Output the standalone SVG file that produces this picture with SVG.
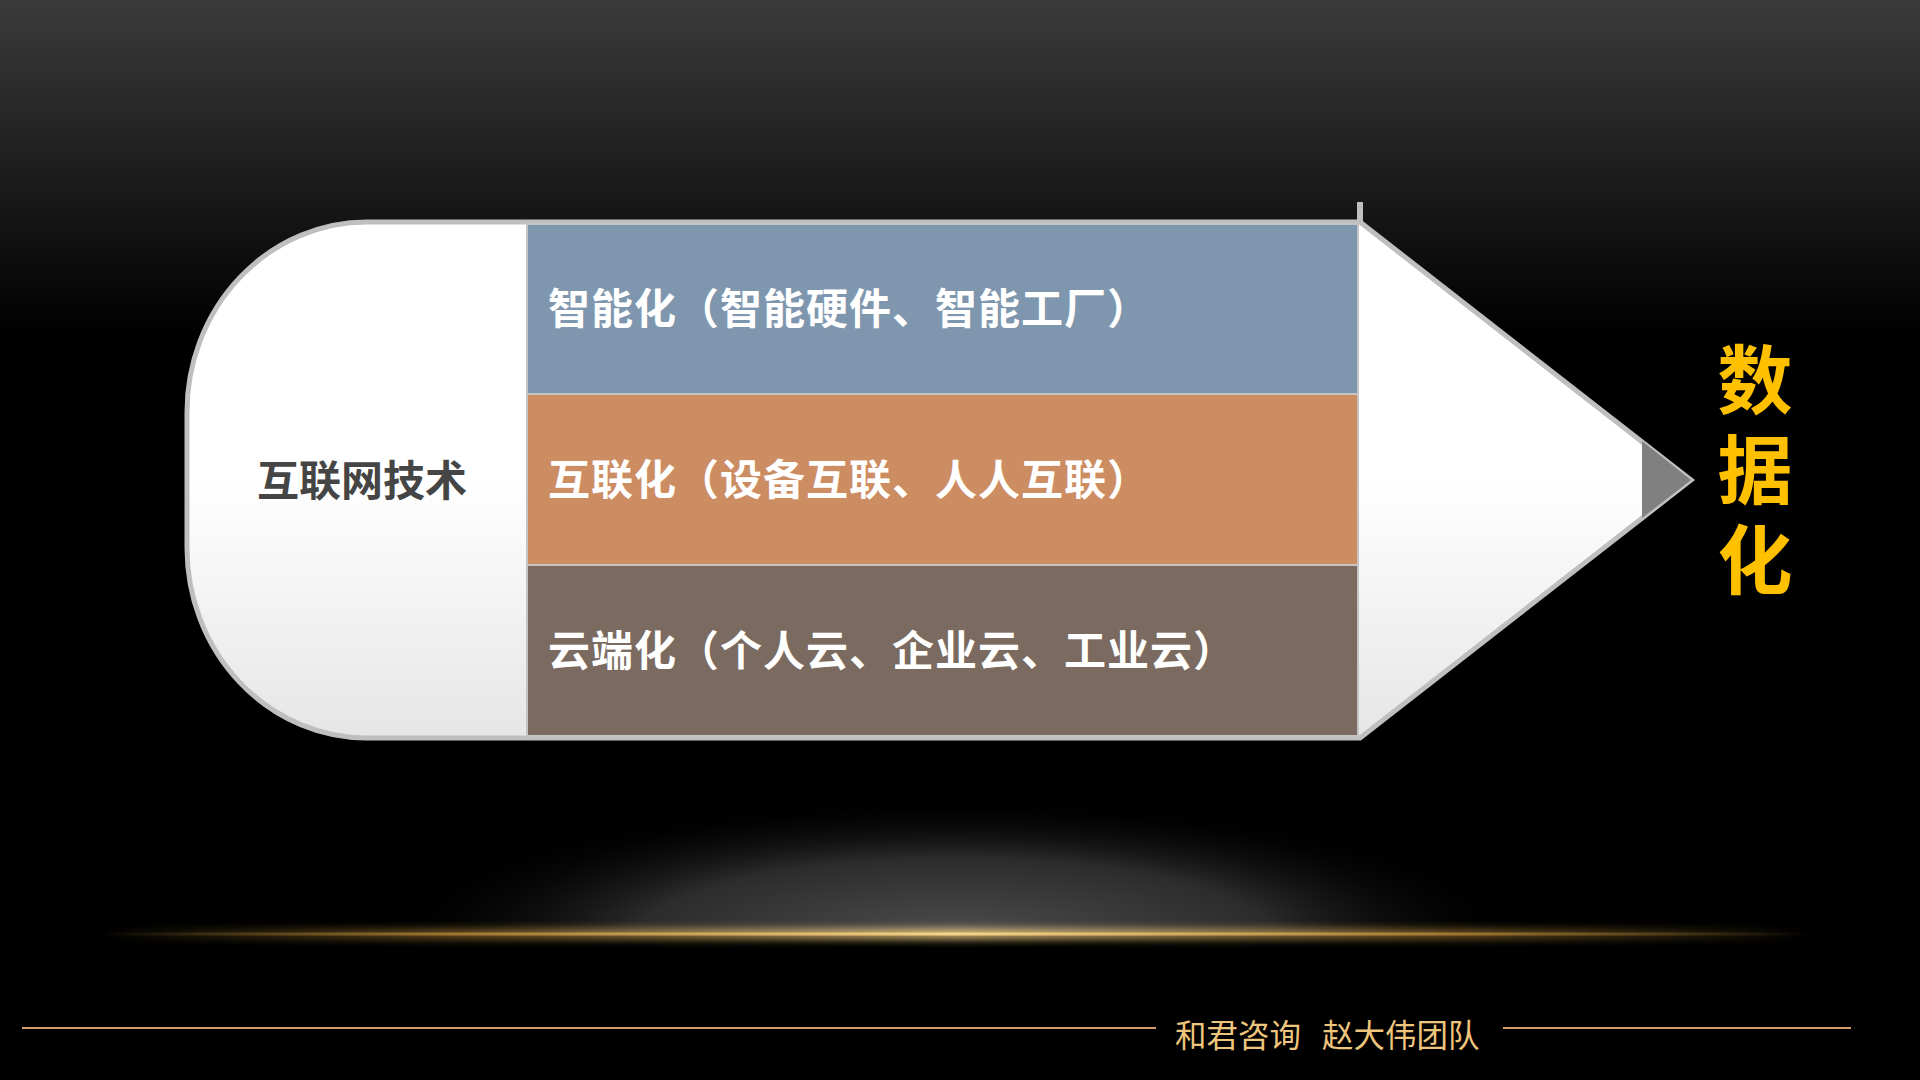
<svg xmlns="http://www.w3.org/2000/svg" width="1920" height="1080" viewBox="0 0 1920 1080">
  <defs>
    <linearGradient id="bg" x1="0" y1="0" x2="0" y2="1">
      <stop offset="0" stop-color="#3B3B3B"/>
      <stop offset="0.31" stop-color="#000000"/>
      <stop offset="1" stop-color="#000000"/>
    </linearGradient>
    <linearGradient id="bodyFill" x1="0" y1="222" x2="0" y2="738" gradientUnits="userSpaceOnUse">
      <stop offset="0" stop-color="#FFFFFF"/>
      <stop offset="0.5" stop-color="#FFFFFF"/>
      <stop offset="1" stop-color="#E6E6E6"/>
    </linearGradient>
    <radialGradient id="glow" cx="955" cy="934" r="570" gradientUnits="userSpaceOnUse" gradientTransform="translate(955 934) scale(1 0.24) translate(-955 -934)">
      <stop offset="0" stop-color="#4C4C4C"/>
      <stop offset="0.55" stop-color="#2C2C2C"/>
      <stop offset="1" stop-color="#000000" stop-opacity="0"/>
    </radialGradient>
    <linearGradient id="goldLine" x1="98" y1="0" x2="1812" y2="0" gradientUnits="userSpaceOnUse">
      <stop offset="0" stop-color="#C8963C" stop-opacity="0"/>
      <stop offset="0.2" stop-color="#C8963C" stop-opacity="0.6"/>
      <stop offset="0.5" stop-color="#F5D488" stop-opacity="1"/>
      <stop offset="0.8" stop-color="#C8963C" stop-opacity="0.6"/>
      <stop offset="1" stop-color="#C8963C" stop-opacity="0"/>
    </linearGradient>
    <filter id="blur6" x="-10%" y="-300%" width="120%" height="700%">
      <feGaussianBlur stdDeviation="4"/>
    </filter>
    <clipPath id="aboveLine">
      <rect x="0" y="700" width="1920" height="234"/>
    </clipPath>
    <style>
      .band { stroke: #C4C4C4; stroke-width: 2; }
      .bandText { font-family: "Noto Sans CJK SC", "Noto Sans", sans-serif; font-weight: 700; font-size: 42px; letter-spacing: 1px; fill: #FFFFFF; }
      .dataText { font-family: "Noto Sans CJK SC", "Noto Sans", sans-serif; font-weight: 700; font-size: 75px; fill: #FFC000; writing-mode: vertical-rl; letter-spacing: 15px; }
      .footLine { stroke: #D49C66; stroke-width: 2; }
    </style>
  </defs>

  <rect x="0" y="0" width="1920" height="1080" fill="url(#bg)"/>

  <g id="floor-glow">
    <ellipse cx="955" cy="934" rx="570" ry="137" fill="url(#glow)" clip-path="url(#aboveLine)"/>
    <rect x="98" y="929" width="1714" height="10" fill="url(#goldLine)" filter="url(#blur6)" opacity="0.9"/>
    <rect x="98" y="932.5" width="1714" height="3" fill="url(#goldLine)"/>
  </g>

  <g id="pencil-body">
    <rect x="1357" y="202" width="6" height="22" fill="#BFBFBF"/>
    <path d="M367,222 H1360 L1691,480 L1360,738 H367 A180,190 0 0 1 187,548 V412 A180,190 0 0 1 367,222 Z" fill="url(#bodyFill)" stroke="#BFBFBF" stroke-width="5" stroke-linejoin="miter"/>
    <polygon points="1642,441 1691,480 1642,518" fill="#808080"/>
  </g>

  <g id="node-internet">
    <text x="257" y="496" font-family="Noto Sans CJK SC, Noto Sans, sans-serif" font-weight="700" font-size="42" fill="#454545">互联网技术</text>
  </g>

  <g id="node-smart">
    <rect class="band" x="527" y="224" width="831" height="170" fill="#7F97AE"/>
    <text class="bandText" x="548" y="324">智能化（智能硬件、智能工厂）</text>
  </g>

  <g id="node-connect">
    <rect class="band" x="527" y="394" width="831" height="171" fill="#CC8D63"/>
    <text class="bandText" x="548" y="495">互联化（设备互联、人人互联）</text>
  </g>

  <g id="node-cloud">
    <rect class="band" x="527" y="565" width="831" height="171" fill="#7B6A5F"/>
    <text class="bandText" x="548" y="666">云端化（个人云、企业云、工业云）</text>
  </g>

  <g id="node-data">
    <text class="dataText" x="1755" y="342">数据化</text>
  </g>

  <g id="footer">
    <line class="footLine" x1="22" y1="1028" x2="1156" y2="1028"/>
    <line class="footLine" x1="1503" y1="1028" x2="1851" y2="1028"/>
    <text font-family="Noto Sans CJK SC, Noto Sans, sans-serif" font-weight="400" font-size="31.5" fill="#EEC57C"><tspan x="1175" y="1047">和君咨询</tspan><tspan x="1322" y="1047">赵大伟团队</tspan></text>
  </g>
</svg>
